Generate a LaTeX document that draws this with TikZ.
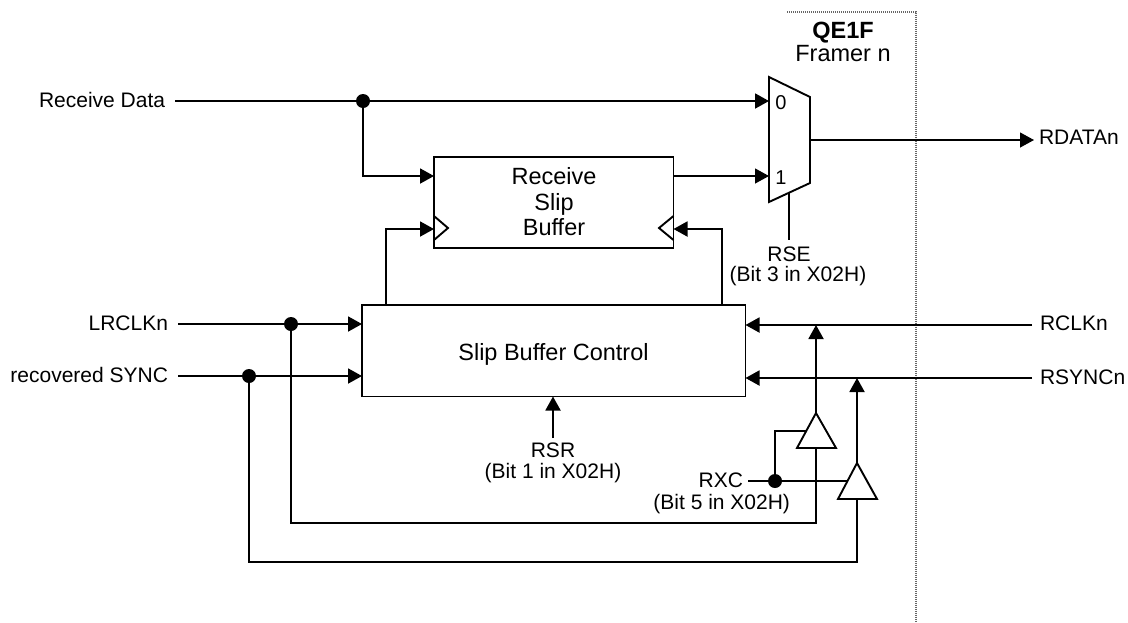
\documentclass[tikz,border=0pt]{standalone}
\usepackage{fontspec}
\setmainfont{Liberation Sans}
\usetikzlibrary{arrows.meta,positioning,calc}
\begin{document}
\begin{tikzpicture}[x=1pt,y=-1pt,line width=1.9pt,
every node/.style={inner sep=0pt,outer sep=0pt},
blockbox/.style={draw,rectangle,anchor=north west},
sig/.style={-{Triangle[length=14pt,width=15pt]}},
thin sig/.style={line width=1.2pt},
junct/.style={circle,fill=black,draw=none,minimum size=14pt},
lab/.style={font=\fontsize{21}{24}\selectfont,text height=15pt,text depth=0pt},
biglab/.style={font=\fontsize{23.5}{26}\selectfont,text height=17pt,text depth=0pt},
bitlab/.style={font=\fontsize{20}{24}\selectfont,text height=14pt,text depth=0pt}]
\useasboundingbox (0,0) rectangle (1128,622);
% framer boundary
\coordinate (F1) at (787,11.5);
\coordinate (F2) at (916,11.5);
\coordinate (F3) at (916,622);
\draw[line width=2pt,dash pattern=on 1pt off 1pt,black!60] (F1)--(F2)--(F3);
\node[biglab] (QE) at (843,30) {\textbf{QE1F}};
\node[biglab] (FR) at (843,52.5) {Framer n};
% blocks
\node[blockbox,minimum width=239.5pt,minimum height=91pt] (RSB) at (434,157) {};
\node[biglab] (RSB1) at (554,176) {Receive};
\node[biglab] (RSB2) at (554,202) {Slip};
\node[biglab] (RSB3) at (554,227) {Buffer};
\node[blockbox,minimum width=383.5pt,minimum height=91.5pt] (SBC) at (362,305) {};
\node[biglab] (SBC1) at (553.5,352) {Slip Buffer Control};
% mux
\coordinate (M1) at (769,77);
\coordinate (M2) at (810,97);
\coordinate (M3) at (810,183);
\coordinate (M4) at (769,202);
\draw (M1)--(M2)--(M3)--(M4)--cycle;
\node[bitlab] (M0) at (781,102) {0};
\node[bitlab] (M9) at (781,177) {1};
% clock marks
\draw (434,216)--(448,228)--(434,240);
\draw (673.5,216)--(659,228)--(673.5,240);
% labels
\node[lab,anchor=west] (RD) at (39,100) {Receive Data};
\node[lab,anchor=east] (LR) at (168,323) {LRCLKn};
\node[lab,anchor=east] (RS) at (168,375) {recovered SYNC};
\node[lab,anchor=west] (RDA) at (1039,137) {RDATAn};
\node[lab,anchor=west] (RC) at (1040,323) {RCLKn};
\node[lab,anchor=west] (RY) at (1040,377) {RSYNCn};
\node[lab] (RSE) at (789,253.5) {RSE};
\node[lab] (RSE2) at (798,274) {(Bit 3 in X02H)};
\node[lab] (RSR) at (553,450) {RSR};
\node[lab] (RSR2) at (553,471) {(Bit 1 in X02H)};
\node[lab,anchor=east] (RX) at (743,480) {RXC};
\node[lab,anchor=east] (RX2) at (790,502) {(Bit 5 in X02H)};
% junctions
\node[junct] (J1) at (363,101) {};
\node[junct] (J2) at (291,324) {};
\node[junct] (J3) at (249,376) {};
\node[junct] (J4) at (775,481) {};
% buffers
\coordinate (T1a) at (816,413);
\coordinate (T1b) at (797,448);
\coordinate (T1c) at (836,448);
\coordinate (T1d) at (816,448);
\coordinate (T2a) at (857,463);
\coordinate (T2b) at (838,499);
\coordinate (T2c) at (877,499);
\coordinate (T2d) at (857,499);
\draw (T1a)--(T1b)--(T1c)--cycle;
\draw (T2a)--(T2b)--(T2c)--cycle;
% bends and line levels
\coordinate (B1) at (363,176);
\coordinate (B2) at (386,229);
\coordinate (B3) at (722,229);
\coordinate (L1) at (816,325);
\coordinate (L2) at (857,378);
\coordinate (C1) at (816,523);
\coordinate (C2) at (291,523);
\coordinate (C3) at (857,562);
\coordinate (C4) at (249,562);
\coordinate (C5) at (775,431);
\coordinate (C6) at (806,431);
\coordinate (C7) at (848,481);
\coordinate (O1) at (810,140);
\coordinate (S1) at (789,193);
% connectors
\draw[shorten <=10pt] (RD.east|-J1)--(J1);
\draw[sig] (J1)--(M1|-J1);
\draw[sig] (J1)--(B1)--(RSB.west|-B1);
\draw[sig,thin sig] (RSB.east|-B1)--(M1|-B1);
\draw[sig,thin sig,shorten >=5pt] (O1)--(RDA.west|-O1);
\draw[thin sig,shorten >=6pt] (S1)--(RSE.north);
\draw[sig] (B2|-SBC.north)--(B2)--(RSB.west|-B2);
\draw[sig] (B3|-SBC.north)--(B3)--(RSB.east|-B3);
\draw[shorten <=10pt] (LR.east|-J2)--(J2);
\draw[sig] (J2)--(SBC.west|-J2);
\draw[shorten <=10pt] (RS.east|-J3)--(J3);
\draw[sig] (J3)--(SBC.west|-J3);
\draw[sig,shorten <=8pt] (RC.west|-L1)--(SBC.east|-L1);
\draw[sig,shorten <=8pt] (RY.west|-L2)--(SBC.east|-L2);
\draw[sig,shorten <=4.5pt] (RSR.north)--(SBC.south-|RSR);
\draw[sig] (T1a)--(L1);
\draw[sig] (T2a)--(L2);
\draw (T1d)--(C1)--(C2)--(J2);
\draw (T2d)--(C3)--(C4)--(J3);
\draw[shorten <=5pt] (RX.east|-J4)--(J4);
\draw (J4)--(C7);
\draw (J4)--(C5)--(C6);
\end{tikzpicture}
\end{document}
